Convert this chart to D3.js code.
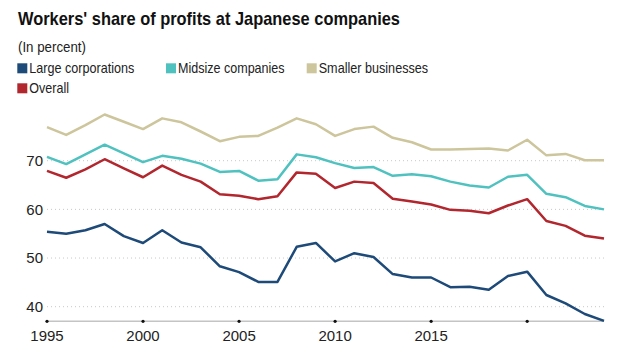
<!DOCTYPE html>
<html><head><meta charset="utf-8">
<script src="https://cdn.jsdelivr.net/npm/d3@7"></script>
<style>body{margin:0;background:#fff;} svg{display:block;font-family:"Liberation Sans",Arial,sans-serif;}</style>
</head><body>
<svg id="c" width="640" height="357"></svg>
<script>
const years = d3.range(1995, 2025);
const large = [55.4,55.0,55.7,57.0,54.5,53.1,55.7,53.2,52.2,48.3,47.1,45.1,45.1,52.3,53.1,49.3,51.0,50.2,46.7,46.0,46.0,44.0,44.1,43.5,46.3,47.2,42.4,40.7,38.5,37.1];
const midsize = [70.8,69.3,71.3,73.3,71.5,69.7,71.0,70.4,69.4,67.7,67.9,65.9,66.2,71.3,70.7,69.5,68.5,68.7,66.9,67.2,66.8,65.7,64.9,64.5,66.7,67.1,63.2,62.5,60.7,60.0];
const smaller = [76.9,75.3,77.3,79.5,78.0,76.5,78.7,77.9,76.0,74.0,74.9,75.1,76.8,78.7,77.5,75.1,76.5,77.0,74.7,73.8,72.3,72.3,72.4,72.5,72.1,74.3,71.1,71.4,70.1,70.1];
const overall = [67.9,66.5,68.2,70.3,68.4,66.6,69.0,67.1,65.7,63.1,62.8,62.1,62.7,67.6,67.3,64.4,65.7,65.4,62.2,61.6,61.0,59.9,59.7,59.2,60.8,62.1,57.6,56.6,54.6,54.0];
const yTicks = [40,50,60,70];
const xTickYears = [1995,2000,2005,2010,2015,2020];
const xTickLabels = ["1995","2000","2005","2010","2015",""];
const seriesNames = ["Large corporations","Midsize companies","Smaller businesses","Overall"];
const colors = ["#1d4a78","#4fc2c0","#cdc59c","#b2262e"];
const seriesData = [large, midsize, smaller, overall];

const svg = d3.select("#c");
const x = d3.scaleLinear().domain([1995, 2024]).range([47, 604]);
const y = d3.scaleLinear().domain([37, 70]).range([321.3, 160.7]);

svg.append("text").attr("x", 18).attr("y", 25).attr("font-size", 19).attr("font-weight", "bold").attr("fill", "#111")
  .attr("textLength", 382).attr("lengthAdjust", "spacingAndGlyphs")
  .text("Workers' share of profits at Japanese companies");
svg.append("text").attr("x", 18).attr("y", 52).attr("font-size", 15).attr("fill", "#222")
  .attr("textLength", 68).attr("lengthAdjust", "spacingAndGlyphs").text("(In percent)");

// legend
const legPos = [[17.3,63.3],[166,63.3],[306.7,63.3],[17.3,83.3]];
const legWidths = [105, 106.6, 109.4, 39.7];
seriesNames.forEach((n,i)=>{
  const g = svg.append("g").attr("transform", `translate(${legPos[i][0]},${legPos[i][1]})`);
  g.append("rect").attr("x",0).attr("y",0).attr("width",10).attr("height",10).attr("fill",colors[i]);
  g.append("text").attr("x",12).attr("y",10).attr("font-size",15).attr("fill","#222")
    .attr("textLength", legWidths[i]).attr("lengthAdjust","spacingAndGlyphs").text(n);
});

// grid
const grid = svg.append("g");
yTicks.forEach(t=>{
  grid.append("line").attr("x1",47).attr("x2",604).attr("y1",y(t)).attr("y2",y(t))
    .attr("stroke","#c8c8c8").attr("stroke-width",1).attr("stroke-dasharray","1,3");
  grid.append("text").attr("x",43).attr("y",y(t)+5.3).attr("text-anchor","end").attr("font-size",15).attr("fill","#222").text(t);
});

// x axis
svg.append("line").attr("x1",47).attr("x2",604).attr("y1",y(37)).attr("y2",y(37)).attr("stroke","#c4c4c4").attr("stroke-width",1.5);
xTickYears.forEach((t,i)=>{
  svg.append("circle").attr("cx",x(t)).attr("cy",y(37)).attr("r",1.6).attr("fill","#111");
  svg.append("text").attr("x",x(t)).attr("y",341).attr("text-anchor","middle").attr("font-size",15).attr("fill","#222").text(xTickLabels[i]);
});

const line = d3.line().x((d,i)=>x(years[i])).y(d=>y(d));
[2,1,3,0].forEach(i=>{
  svg.append("path").datum(seriesData[i]).attr("d",line).attr("fill","none")
    .attr("stroke",colors[i]).attr("stroke-width",2.5).attr("stroke-linejoin","round");
});
</script>
</body></html>
